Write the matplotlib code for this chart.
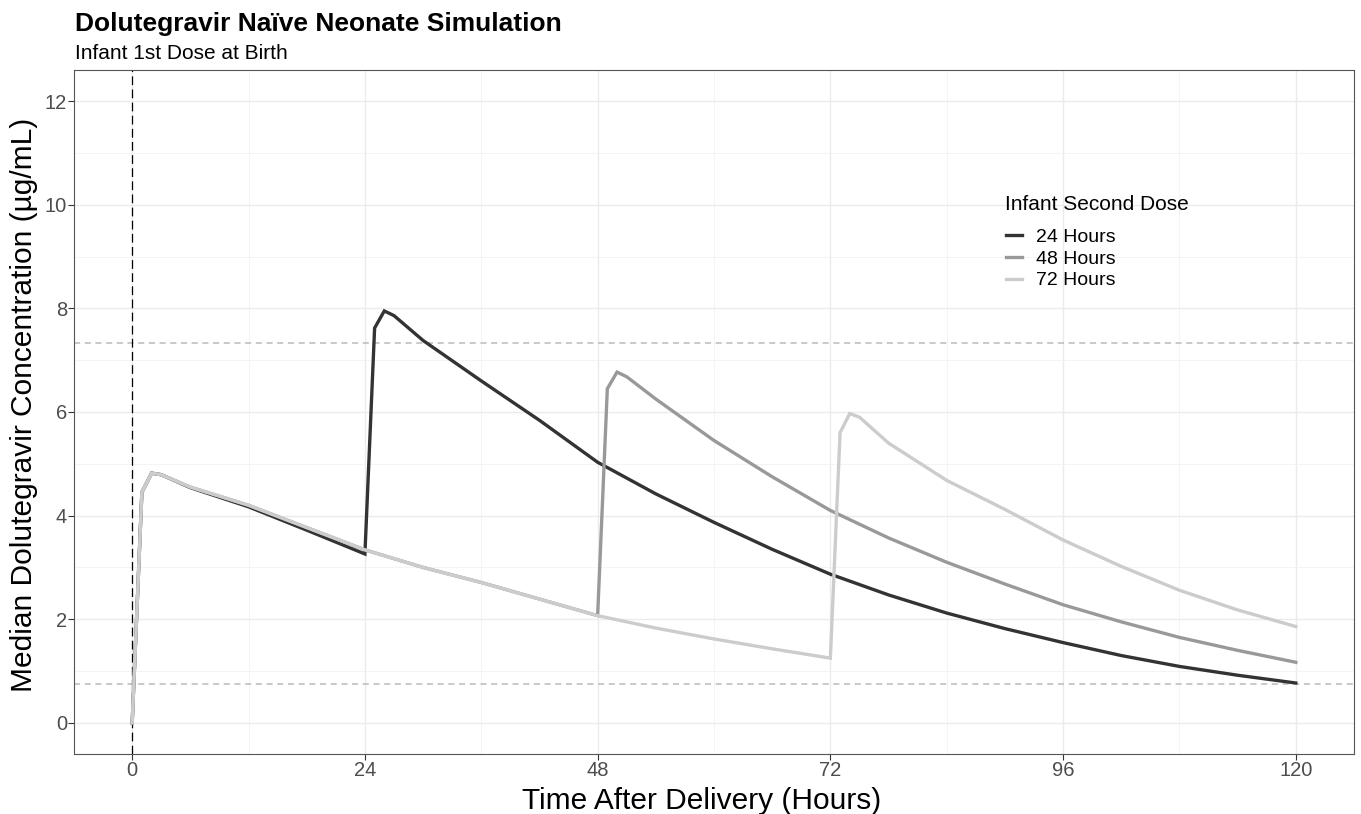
import matplotlib
matplotlib.use("Agg")
import matplotlib.pyplot as plt
from matplotlib.ticker import MultipleLocator

plt.rcParams['font.family'] = ['Liberation Sans', 'DejaVu Sans']

# median concentrations (ug/mL)
hours_24 = [0, 1, 2, 3, 6, 12, 18, 24, 25, 26, 27, 30, 36, 42, 48, 54, 60, 66, 72,
            78, 84, 90, 96, 102, 108, 114, 120]
conc_24 = [0, 4.45, 4.82, 4.79, 4.54, 4.17, 3.72, 3.26, 7.62, 7.95, 7.86, 7.38, 6.60,
           5.84, 5.03, 4.42, 3.87, 3.35, 2.87, 2.47, 2.12, 1.82, 1.55, 1.30, 1.09, 0.92, 0.77]

hours_48 = [0, 1, 2, 3, 6, 12, 18, 24, 30, 36, 42, 48, 49, 50, 51, 54, 60, 66, 72,
            78, 84, 90, 96, 102, 108, 114, 120]
conc_48 = [0, 4.45, 4.82, 4.79, 4.55, 4.20, 3.77, 3.34, 3.00, 2.71, 2.39, 2.07, 6.45,
           6.77, 6.68, 6.25, 5.45, 4.75, 4.10, 3.57, 3.10, 2.68, 2.28, 1.95, 1.65, 1.40, 1.17]

hours_72 = [0, 1, 2, 3, 6, 12, 18, 24, 30, 36, 42, 48, 54, 60, 66, 72, 73, 74, 75,
            78, 84, 90, 96, 102, 108, 114, 120]
conc_72 = [0, 4.45, 4.82, 4.79, 4.55, 4.20, 3.77, 3.34, 3.00, 2.71, 2.39, 2.07, 1.83,
           1.62, 1.43, 1.25, 5.60, 5.97, 5.90, 5.40, 4.68, 4.12, 3.53, 3.02, 2.56, 2.18, 1.86]

series = [("24 Hours", hours_24, conc_24, "#333333"),
          ("48 Hours", hours_48, conc_48, "#999999"),
          ("72 Hours", hours_72, conc_72, "#cccccc")]

ref_lines = [7.34, 0.75]
x_ticks = [0, 24, 48, 72, 96, 120]
y_ticks = [0, 2, 4, 6, 8, 10, 12]

W, H = 1361, 814
fig = plt.figure(figsize=(W / 100, H / 100), dpi=100)
ax = fig.add_axes([74 / W, 1 - 754 / H, (1354 - 74) / W, (754 - 70) / H])

# grid like theme_bw
ax.set_axisbelow(True)
ax.xaxis.set_minor_locator(MultipleLocator(12))
ax.yaxis.set_minor_locator(MultipleLocator(1))
ax.grid(which='major', color='#ebebeb', lw=1.0)
ax.grid(which='minor', color='#f2f2f2', lw=0.6)

for y in ref_lines:
    ax.axhline(y, color='#bbbbbb', lw=1.1, ls=(0, (4, 3)), zorder=1)
ax.axvline(0, color='black', lw=0.9, ls=(0, (7, 3.5)), zorder=1)

for label, t, c, col in series:
    ax.plot(t, c, color=col, lw=2.4, label=label, solid_joinstyle='miter', zorder=2)

ax.set_xlim(-6, 126)
ax.set_ylim(-0.6, 12.6)
ax.set_xticks(x_ticks)
ax.set_yticks(y_ticks)
ax.tick_params(which='major', length=4.3, width=0.8, color='#333333', labelsize=14.5,
               labelcolor='#4d4d4d', pad=0.8)
ax.tick_params(which='minor', length=0)
for s in ax.spines.values():
    s.set_color('#555555')
    s.set_linewidth(0.8)

ax.set_xlabel("Time After Delivery (Hours)", fontsize=21.5, labelpad=5, x=0.4906)
ax.set_ylabel("Median Dolutegravir Concentration (\u00b5g/mL)", fontsize=21.5,
              labelpad=4.5, y=0.51)

# legend title drawn separately so the gap under it matches the reference
fig.text(1005 / W, 1 - 204 / H, "Infant Second Dose", fontsize=15, va='center')
leg = ax.legend(loc='upper left', bbox_to_anchor=(1006 / W, 1 - 228 / H),
                bbox_transform=fig.transFigure, frameon=False, fontsize=14,
                handlelength=0.8, handletextpad=0.72, labelspacing=0.22,
                borderpad=0, borderaxespad=0)

fig.text(75 / W, 1 - 31 / H, "Dolutegravir Na\u00efve Neonate Simulation",
         fontsize=19, fontweight='bold', va='baseline')
fig.text(75 / W, 1 - 59 / H, "Infant 1st Dose at Birth", fontsize=15, va='baseline')

fig.savefig('out.png', dpi=100)
